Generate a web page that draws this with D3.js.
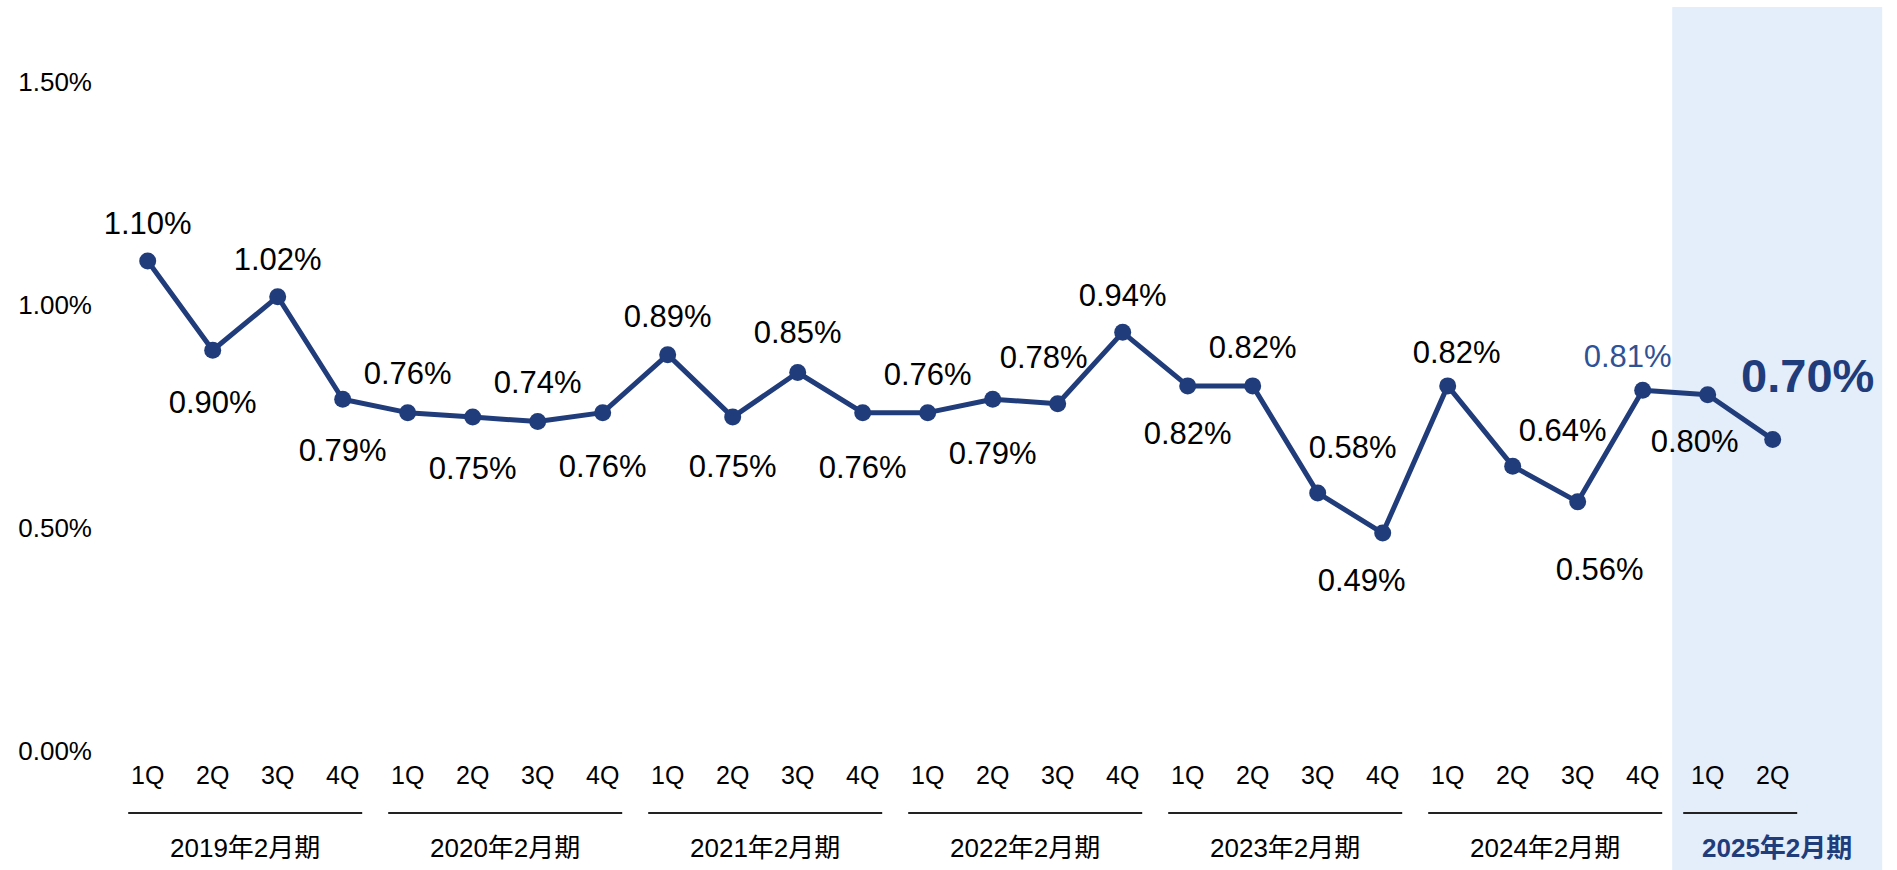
<!DOCTYPE html>
<html>
<head>
<meta charset="utf-8">
<script src="https://cdn.jsdelivr.net/npm/d3@7"></script>
<style>
  body { margin: 0; background: #fff; }
  svg text { font-family: "Liberation Sans", Arial, "Noto Sans CJK JP", sans-serif; }
</style>
</head>
<body>
<div id="chart"></div>
<script>
// fiscal years and quarters
const years = ["2019年2月期", "2020年2月期", "2021年2月期", "2022年2月期", "2023年2月期", "2024年2月期", "2025年2月期"]
const quartersPerYear = [4, 4, 4, 4, 4, 4, 2]
const quarterNames = ["1Q", "2Q", "3Q", "4Q"]

// rate per quarter, %
const values = [1.10, 0.90, 1.02, 0.79, 0.76, 0.75, 0.74, 0.76, 0.89, 0.75, 0.85, 0.76, 0.76, 0.79,
  0.78, 0.94, 0.82, 0.82, 0.58, 0.49, 0.82, 0.64, 0.56, 0.81, 0.80, 0.70]

const yTicks = [0, 0.5, 1.0, 1.5]

// label placement around each point (px)
const labelDx = [0, 0, 0, 0, 0, 0, 0, 0, 0, 0, 0, 0, 0, 0, -14, 0, 0, 0, 35, -21, 9, 50, 22, -15, -13, 35]
const labelDy = [-38, 52, -38, 51, -39, 51, -39, 54, -39, 49, -40, 55, -38, 54, -47, -37, 47, -39, -46, 47, -34, -36, 67, -34, 46, -64]

const width = 1897
const height = 870
const navy = "#203c7a"

// build quarter records
const quarters = []
years.forEach((y, yi) => {
  for (let q = 0; q < quartersPerYear[yi]; q++) {
    quarters.push({ id: y + "-" + quarterNames[q], year: y, yi, q: quarterNames[q] })
  }
})
quarters.forEach((d, i) => { d.value = values[i]; d.i = i })

const svg = d3.select("#chart").append("svg")
  .attr("width", width)
  .attr("height", height)

const x = d3.scaleBand()
  .domain(quarters.map(d => d.id))
  .range([115.2, 115.2 + 65 * quarters.length])
  .padding(0)

const cx = d => x(d.id) + x.bandwidth() / 2

const y = d3.scaleLinear()
  .domain([0, 1.5])
  .range([751.6, 82.6])

// highlight for the current fiscal year
const lastYear = years[years.length - 1]
const lastFirst = quarters.find(d => d.year === lastYear)
const hlX = x(lastFirst.id) - 3
const hlW = 210
svg.append("rect")
  .attr("x", hlX)
  .attr("y", 7)
  .attr("width", hlW)
  .attr("height", height - 7)
  .attr("fill", "#e4eefa")

// y axis
const yAxis = d3.axisLeft(y)
  .tickValues(yTicks)
  .tickSize(0)
  .tickPadding(0)
  .tickFormat(d => d.toFixed(2) + "%")

const gy = svg.append("g")
  .attr("transform", "translate(92,0)")
  .call(yAxis)
gy.select(".domain").remove()
gy.selectAll("text")
  .attr("font-size", 26)
  .attr("fill", "#000")
  .attr("font-family", null)

// quarter axis
const xAxis = d3.axisBottom(x)
  .tickSize(0)
  .tickFormat(id => quarters.find(d => d.id === id).q)

const gx = svg.append("g")
  .attr("transform", "translate(0,775)")
  .call(xAxis)
gx.select(".domain").remove()
gx.selectAll("text")
  .attr("y", 0)
  .attr("dy", "0.35em")
  .attr("font-size", 25)
  .attr("fill", "#000")
  .attr("font-family", null)

// year groups: underline + label
const groups = years.map((yr, yi) => {
  const qs = quarters.filter(d => d.yi === yi)
  return { year: yr, first: qs[0], last: qs[qs.length - 1], n: qs.length }
})

svg.selectAll(".yearLine")
  .data(groups)
  .enter().append("line")
  .attr("class", "yearLine")
  .attr("x1", d => x(d.first.id) + (d.n === 4 ? 13 : 8))
  .attr("x2", d => x(d.last.id) + x.bandwidth() - (d.n === 4 ? 13 : 8))
  .attr("y1", 813)
  .attr("y2", 813)
  .attr("stroke", "#222")
  .attr("stroke-width", 2)

svg.selectAll(".yearLabel")
  .data(groups)
  .enter().append("text")
  .attr("class", "yearLabel")
  .attr("x", d => d.year === lastYear ? hlX + hlW / 2 : (cx(d.first) + cx(d.last)) / 2)
  .attr("y", 848)
  .attr("dy", "0.35em")
  .attr("text-anchor", "middle")
  .attr("font-size", 26)
  .attr("font-weight", d => d.year === lastYear ? "bold" : "normal")
  .attr("fill", d => d.year === lastYear ? navy : "#000")
  .text(d => d.year)

// line + points
const line = d3.line()
  .x(cx)
  .y(d => y(d.value))

svg.append("path")
  .datum(quarters)
  .attr("d", line)
  .attr("fill", "none")
  .attr("stroke", navy)
  .attr("stroke-width", 5)
  .attr("stroke-linejoin", "round")

svg.selectAll(".dot")
  .data(quarters)
  .enter().append("circle")
  .attr("class", "dot")
  .attr("cx", cx)
  .attr("cy", d => y(d.value))
  .attr("r", 8.5)
  .attr("fill", navy)

// value labels
const lastIdx = quarters.length - 1
svg.selectAll(".valLabel")
  .data(quarters)
  .enter().append("text")
  .attr("class", "valLabel")
  .attr("x", d => cx(d) + labelDx[d.i])
  .attr("y", d => y(d.value) + labelDy[d.i])
  .attr("dy", "0.35em")
  .attr("text-anchor", "middle")
  .attr("font-size", d => d.i === lastIdx ? 47 : 31)
  .attr("font-weight", d => d.i === lastIdx ? "bold" : "normal")
  .attr("fill", d => d.i === lastIdx ? navy : d.i === lastIdx - 2 ? "#2f5296" : "#000")
  .text(d => d.value.toFixed(2) + "%")
</script>
</body>
</html>
